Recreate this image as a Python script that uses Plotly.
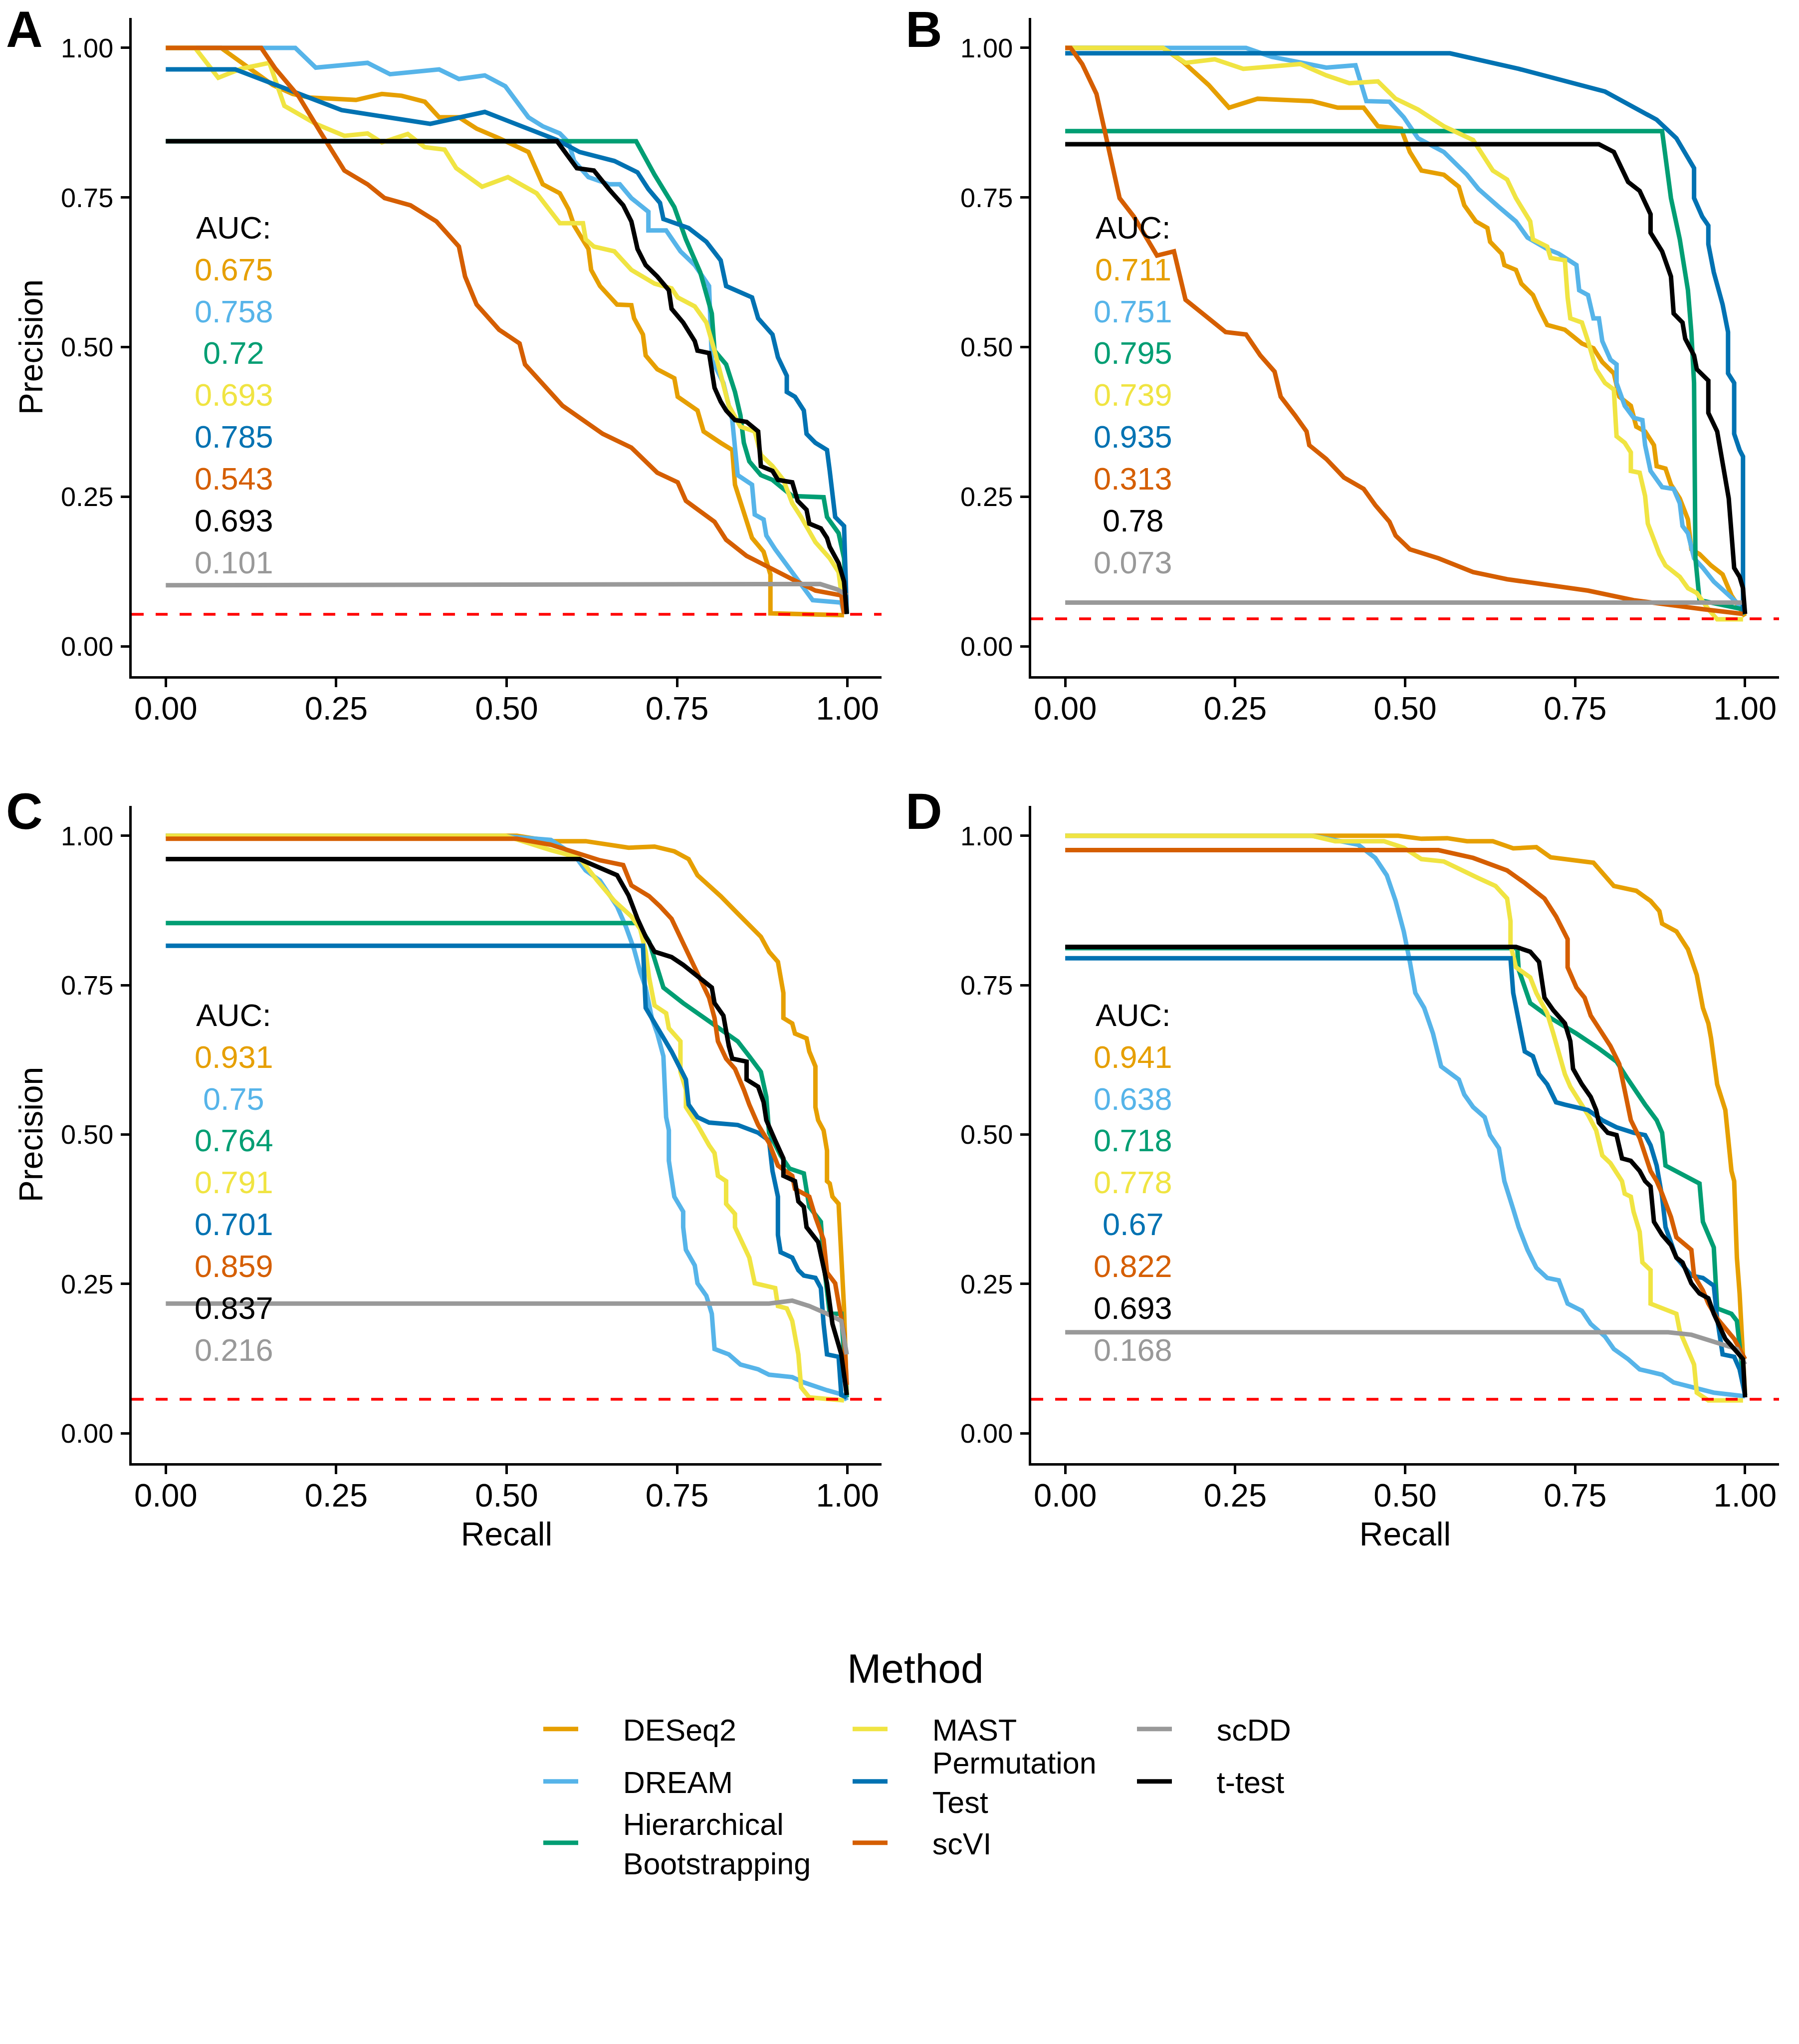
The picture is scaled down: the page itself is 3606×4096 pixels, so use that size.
import plotly.graph_objects as go

# ---------------- data ----------------
methods = ["DESeq2", "DREAM", "Hierarchical Bootstrapping", "MAST",
           "Permutation Test", "scVI", "scDD", "t-test"]
legend_lines = [["DESeq2"], ["DREAM"], ["Hierarchical", "Bootstrapping"], ["MAST"],
                ["Permutation", "Test"], ["scVI"], ["scDD"], ["t-test"]]
colors = ["#E69F00", "#56B4E9", "#009E73", "#F0E442",
          "#0072B2", "#D55E00", "#999999", "#000000"]

tick_vals = [0, 0.25, 0.5, 0.75, 1.0]
tick_text = ["0.00", "0.25", "0.50", "0.75", "1.00"]

# (recall, precision) pairs
A_DESeq2 = [(0,1.0),(0.081,1.0),(0.119,0.969),(0.157,0.938),(0.186,0.923),(0.211,0.917),(0.279,0.913),(0.317,0.923),(0.346,0.920),(0.380,0.910),(0.401,0.884),(0.430,0.884),(0.456,0.865),(0.489,0.849),(0.532,0.826),(0.553,0.772),(0.578,0.757),(0.591,0.730),(0.599,0.703),(0.620,0.664),(0.624,0.629),(0.637,0.602),(0.662,0.571),(0.683,0.570),(0.687,0.548),(0.700,0.521),(0.704,0.486),(0.721,0.463),(0.746,0.448),(0.751,0.417),(0.780,0.394),(0.789,0.359),(0.814,0.340),(0.831,0.328),(0.835,0.270),(0.852,0.208),(0.860,0.181),(0.877,0.158),(0.887,0.120),(0.887,0.055),(0.995,0.052)]
A_DREAM = [(0,1.0),(0.190,1.0),(0.220,0.967),(0.296,0.975),(0.329,0.956),(0.401,0.964),(0.430,0.948),(0.468,0.954),(0.498,0.936),(0.532,0.884),(0.553,0.869),(0.578,0.857),(0.591,0.842),(0.599,0.811),(0.620,0.784),(0.650,0.772),(0.666,0.772),(0.683,0.749),(0.708,0.726),(0.708,0.695),(0.734,0.695),(0.755,0.660),(0.776,0.637),(0.797,0.602),(0.801,0.479),(0.818,0.440),(0.831,0.378),(0.839,0.286),(0.860,0.270),(0.864,0.220),(0.877,0.212),(0.881,0.185),(0.894,0.162),(0.919,0.124),(0.949,0.077),(0.991,0.073),(0.995,0.054)]
A_HB = [(0,0.844),(0.690,0.844),(0.717,0.788),(0.746,0.734),(0.763,0.680),(0.784,0.625),(0.801,0.556),(0.805,0.494),(0.822,0.471),(0.835,0.425),(0.843,0.386),(0.848,0.340),(0.856,0.309),(0.873,0.286),(0.890,0.278),(0.919,0.251),(0.965,0.249),(0.970,0.216),(0.987,0.189),(0.995,0.147),(0.999,0.054)]
A_MAST = [(0,1.0),(0.043,1.0),(0.077,0.950),(0.110,0.965),(0.152,0.975),(0.174,0.903),(0.220,0.873),(0.262,0.853),(0.296,0.857),(0.317,0.842),(0.355,0.856),(0.380,0.834),(0.409,0.830),(0.426,0.799),(0.464,0.768),(0.502,0.784),(0.544,0.757),(0.578,0.707),(0.612,0.707),(0.616,0.680),(0.628,0.668),(0.658,0.660),(0.683,0.629),(0.717,0.606),(0.742,0.598),(0.751,0.583),(0.776,0.568),(0.793,0.541),(0.805,0.494),(0.818,0.440),(0.826,0.402),(0.843,0.367),(0.864,0.359),(0.873,0.320),(0.890,0.301),(0.906,0.278),(0.919,0.239),(0.932,0.216),(0.953,0.174),(0.974,0.147),(0.987,0.124),(0.995,0.054)]
A_PT = [(0,0.964),(0.102,0.964),(0.178,0.931),(0.258,0.896),(0.388,0.873),(0.468,0.893),(0.574,0.846),(0.607,0.826),(0.658,0.811),(0.692,0.792),(0.708,0.764),(0.725,0.741),(0.730,0.714),(0.767,0.699),(0.793,0.676),(0.814,0.645),(0.822,0.602),(0.860,0.583),(0.869,0.548),(0.890,0.521),(0.898,0.483),(0.911,0.452),(0.911,0.425),(0.923,0.417),(0.936,0.394),(0.940,0.355),(0.953,0.340),(0.970,0.328),(0.974,0.293),(0.982,0.216),(0.995,0.201),(0.999,0.054)]
A_scVI = [(0,1.0),(0.140,1.0),(0.161,0.965),(0.195,0.919),(0.228,0.857),(0.262,0.795),(0.296,0.772),(0.321,0.749),(0.359,0.737),(0.397,0.710),(0.430,0.668),(0.439,0.618),(0.456,0.571),(0.489,0.529),(0.519,0.506),(0.527,0.471),(0.582,0.402),(0.641,0.355),(0.683,0.332),(0.721,0.290),(0.751,0.274),(0.763,0.243),(0.805,0.208),(0.822,0.178),(0.852,0.151),(0.885,0.131),(0.919,0.112),(0.953,0.093),(0.991,0.085),(0.995,0.054)]
A_scDD = [(0,0.102),(0.93,0.103),(0.96,0.104),(0.985,0.095),(1.0,0.085)]
A_ttest = [(0,0.844),(0.574,0.844),(0.603,0.799),(0.628,0.795),(0.650,0.764),(0.671,0.737),(0.683,0.710),(0.692,0.664),(0.704,0.637),(0.721,0.618),(0.738,0.595),(0.742,0.564),(0.759,0.541),(0.776,0.510),(0.780,0.494),(0.797,0.490),(0.805,0.432),(0.814,0.409),(0.822,0.394),(0.835,0.378),(0.852,0.375),(0.869,0.359),(0.873,0.301),(0.890,0.293),(0.898,0.278),(0.919,0.274),(0.927,0.243),(0.940,0.228),(0.944,0.205),(0.961,0.197),(0.970,0.181),(0.974,0.166),(0.987,0.139),(0.995,0.108),(0.999,0.054)]

B_DESeq2 = [(0,1.0),(0.144,1.0),(0.173,0.977),(0.211,0.938),(0.241,0.900),(0.283,0.915),(0.363,0.911),(0.401,0.900),(0.439,0.900),(0.460,0.869),(0.494,0.865),(0.507,0.826),(0.524,0.795),(0.557,0.788),(0.579,0.768),(0.587,0.737),(0.604,0.710),(0.621,0.699),(0.625,0.676),(0.642,0.656),(0.646,0.637),(0.663,0.629),(0.671,0.606),(0.688,0.587),(0.697,0.564),(0.709,0.537),(0.735,0.529),(0.760,0.506),(0.777,0.498),(0.790,0.475),(0.807,0.456),(0.815,0.417),(0.832,0.402),(0.840,0.367),(0.853,0.359),(0.866,0.336),(0.870,0.301),(0.883,0.297),(0.891,0.270),(0.904,0.247),(0.916,0.212),(0.921,0.162),(0.933,0.154),(0.950,0.135),(0.967,0.120),(0.980,0.085),(1.0,0.050)]
B_DREAM = [(0,1.0),(0.266,1.0),(0.304,0.985),(0.384,0.967),(0.427,0.971),(0.443,0.911),(0.477,0.910),(0.498,0.884),(0.519,0.849),(0.557,0.826),(0.591,0.788),(0.608,0.764),(0.638,0.734),(0.663,0.710),(0.680,0.683),(0.709,0.664),(0.726,0.656),(0.752,0.637),(0.756,0.595),(0.769,0.587),(0.777,0.548),(0.785,0.548),(0.790,0.510),(0.802,0.479),(0.811,0.471),(0.811,0.440),(0.823,0.402),(0.836,0.382),(0.849,0.378),(0.853,0.336),(0.861,0.293),(0.878,0.266),(0.895,0.263),(0.904,0.239),(0.908,0.201),(0.916,0.189),(0.925,0.147),(0.938,0.131),(0.954,0.108),(0.988,0.073),(1.0,0.054)]
B_HB = [(0,0.861),(0.878,0.861),(0.891,0.749),(0.904,0.680),(0.916,0.595),(0.921,0.525),(0.925,0.440),(0.927,0.147),(0.933,0.077),(0.996,0.062),(1.0,0.054)]
B_MAST = [(0,1.0),(0.144,1.0),(0.177,0.975),(0.220,0.981),(0.262,0.965),(0.346,0.973),(0.384,0.954),(0.418,0.941),(0.460,0.944),(0.486,0.915),(0.519,0.897),(0.557,0.869),(0.600,0.846),(0.629,0.795),(0.650,0.780),(0.663,0.749),(0.684,0.710),(0.688,0.680),(0.709,0.668),(0.714,0.649),(0.735,0.645),(0.739,0.583),(0.743,0.548),(0.760,0.541),(0.769,0.510),(0.781,0.463),(0.794,0.440),(0.807,0.429),(0.811,0.351),(0.823,0.340),(0.832,0.324),(0.832,0.293),(0.845,0.290),(0.853,0.251),(0.857,0.205),(0.866,0.178),(0.874,0.154),(0.883,0.135),(0.904,0.116),(0.916,0.097),(0.929,0.089),(0.946,0.062),(0.959,0.045),(0.997,0.045)]
B_PT = [(0,0.991),(0.566,0.991),(0.667,0.965),(0.794,0.927),(0.870,0.880),(0.899,0.849),(0.925,0.799),(0.925,0.749),(0.937,0.718),(0.946,0.703),(0.946,0.672),(0.954,0.625),(0.967,0.571),(0.971,0.548),(0.975,0.525),(0.975,0.456),(0.984,0.440),(0.984,0.355),(0.992,0.328),(0.997,0.317),(0.997,0.054)]
B_scVI = [(0,1.0),(0.008,1.0),(0.025,0.973),(0.046,0.923),(0.059,0.857),(0.072,0.788),(0.080,0.749),(0.101,0.718),(0.135,0.653),(0.160,0.660),(0.177,0.579),(0.211,0.548),(0.236,0.525),(0.266,0.521),(0.287,0.486),(0.308,0.459),(0.317,0.417),(0.338,0.386),(0.355,0.359),(0.359,0.336),(0.384,0.313),(0.410,0.282),(0.439,0.263),(0.456,0.236),(0.477,0.208),(0.486,0.185),(0.507,0.162),(0.549,0.147),(0.600,0.124),(0.650,0.112),(0.701,0.104),(0.769,0.093),(0.836,0.077),(0.887,0.069),(0.938,0.062),(0.997,0.054)]
B_scDD = [(0,0.073),(1.0,0.073)]
B_ttest = [(0,0.839),(0.785,0.839),(0.807,0.826),(0.828,0.776),(0.845,0.761),(0.861,0.722),(0.861,0.691),(0.878,0.660),(0.891,0.618),(0.895,0.556),(0.908,0.541),(0.912,0.514),(0.925,0.486),(0.929,0.463),(0.946,0.444),(0.946,0.390),(0.959,0.359),(0.967,0.305),(0.976,0.247),(0.980,0.189),(0.984,0.131),(0.992,0.116),(0.997,0.097),(1.0,0.054)]

C_DESeq2 = [(0,1.0),(0.515,1.0),(0.565,0.991),(0.616,0.991),(0.679,0.980),(0.717,0.982),(0.746,0.974),(0.767,0.961),(0.780,0.934),(0.814,0.899),(0.839,0.870),(0.873,0.831),(0.885,0.806),(0.898,0.789),(0.906,0.737),(0.906,0.695),(0.919,0.686),(0.923,0.669),(0.940,0.661),(0.944,0.639),(0.953,0.614),(0.953,0.546),(0.957,0.524),(0.965,0.507),(0.970,0.473),(0.970,0.422),(0.974,0.418),(0.978,0.396),(0.987,0.384),(0.991,0.286),(0.995,0.209),(0.999,0.064)]
C_DREAM = [(0,1.0),(0.489,1.0),(0.565,0.993),(0.599,0.968),(0.616,0.942),(0.637,0.925),(0.662,0.882),(0.675,0.848),(0.687,0.810),(0.696,0.772),(0.704,0.746),(0.713,0.695),(0.721,0.669),(0.730,0.631),(0.734,0.529),(0.738,0.507),(0.738,0.456),(0.746,0.396),(0.759,0.371),(0.759,0.345),(0.763,0.307),(0.776,0.281),(0.780,0.251),(0.793,0.230),(0.801,0.200),(0.805,0.141),(0.826,0.132),(0.843,0.115),(0.869,0.107),(0.885,0.098),(0.919,0.094),(0.936,0.085),(0.970,0.072),(0.995,0.064),(0.999,0.055)]
C_HB = [(0,0.854),(0.692,0.854),(0.709,0.823),(0.730,0.746),(0.759,0.720),(0.801,0.686),(0.839,0.656),(0.856,0.631),(0.873,0.605),(0.881,0.563),(0.885,0.503),(0.902,0.465),(0.915,0.443),(0.936,0.435),(0.944,0.379),(0.961,0.354),(0.965,0.286),(0.974,0.200),(0.991,0.200),(0.999,0.060)]
C_MAST = [(0,1.0),(0.498,1.0),(0.565,0.976),(0.607,0.963),(0.633,0.925),(0.658,0.891),(0.683,0.865),(0.696,0.844),(0.704,0.806),(0.709,0.763),(0.717,0.716),(0.734,0.703),(0.738,0.678),(0.755,0.656),(0.755,0.605),(0.763,0.575),(0.763,0.546),(0.780,0.516),(0.797,0.482),(0.805,0.469),(0.810,0.431),(0.822,0.422),(0.822,0.384),(0.835,0.367),(0.835,0.345),(0.848,0.311),(0.856,0.294),(0.864,0.251),(0.877,0.247),(0.894,0.243),(0.898,0.213),(0.911,0.209),(0.919,0.188),(0.923,0.162),(0.928,0.132),(0.932,0.077),(0.944,0.060),(0.995,0.055)]
C_PT = [(0,0.816),(0.700,0.816),(0.704,0.712),(0.721,0.678),(0.742,0.639),(0.763,0.592),(0.767,0.550),(0.780,0.529),(0.797,0.520),(0.839,0.516),(0.869,0.503),(0.885,0.490),(0.890,0.439),(0.898,0.396),(0.898,0.332),(0.902,0.303),(0.919,0.294),(0.928,0.273),(0.936,0.264),(0.953,0.260),(0.961,0.243),(0.965,0.183),(0.970,0.132),(0.987,0.128),(0.991,0.064),(0.999,0.060)]
C_scVI = [(0,0.995),(0.515,0.995),(0.565,0.985),(0.607,0.969),(0.637,0.959),(0.671,0.951),(0.683,0.917),(0.709,0.899),(0.725,0.882),(0.742,0.861),(0.763,0.810),(0.780,0.767),(0.797,0.729),(0.805,0.695),(0.810,0.656),(0.822,0.627),(0.835,0.610),(0.848,0.575),(0.856,0.550),(0.869,0.516),(0.885,0.486),(0.898,0.448),(0.919,0.431),(0.923,0.409),(0.944,0.396),(0.953,0.362),(0.965,0.324),(0.970,0.269),(0.982,0.251),(0.995,0.166),(0.999,0.081)]
C_scDD = [(0,0.217),(0.885,0.217),(0.919,0.222),(0.944,0.213),(0.970,0.200),(0.991,0.188),(0.999,0.132)]
C_ttest = [(0,0.961),(0.607,0.961),(0.662,0.934),(0.679,0.900),(0.692,0.861),(0.704,0.831),(0.717,0.806),(0.742,0.797),(0.759,0.784),(0.801,0.746),(0.805,0.720),(0.818,0.699),(0.826,0.648),(0.831,0.627),(0.852,0.622),(0.852,0.592),(0.869,0.580),(0.877,0.554),(0.881,0.524),(0.890,0.503),(0.894,0.490),(0.906,0.460),(0.906,0.431),(0.923,0.422),(0.928,0.388),(0.936,0.379),(0.940,0.345),(0.957,0.320),(0.970,0.251),(0.974,0.217),(0.978,0.183),(0.991,0.132),(0.999,0.064)]

D_DESeq2 = [(0,1.0),(0.490,1.0),(0.524,0.995),(0.562,0.996),(0.591,0.991),(0.629,0.991),(0.659,0.979),(0.693,0.981),(0.714,0.964),(0.777,0.955),(0.807,0.916),(0.840,0.908),(0.861,0.891),(0.874,0.874),(0.878,0.853),(0.899,0.840),(0.916,0.810),(0.929,0.767),(0.938,0.712),(0.946,0.686),(0.950,0.661),(0.959,0.584),(0.971,0.541),(0.975,0.494),(0.980,0.439),(0.984,0.422),(0.988,0.294),(0.992,0.234),(0.997,0.124),(1.0,0.064)]
D_DREAM = [(0,1.0),(0.363,1.0),(0.405,0.991),(0.431,0.985),(0.456,0.963),(0.473,0.934),(0.486,0.891),(0.498,0.840),(0.507,0.789),(0.515,0.737),(0.528,0.712),(0.541,0.669),(0.553,0.614),(0.579,0.592),(0.587,0.567),(0.600,0.546),(0.617,0.529),(0.625,0.499),(0.638,0.477),(0.646,0.422),(0.659,0.375),(0.667,0.345),(0.680,0.307),(0.693,0.277),(0.709,0.260),(0.726,0.256),(0.739,0.217),(0.760,0.205),(0.773,0.183),(0.794,0.162),(0.807,0.141),(0.828,0.124),(0.845,0.107),(0.878,0.098),(0.895,0.085),(0.921,0.077),(0.954,0.068),(1.0,0.062)]
D_HB = [(0,0.812),(0.665,0.812),(0.667,0.776),(0.684,0.720),(0.714,0.695),(0.752,0.669),(0.785,0.644),(0.811,0.622),(0.828,0.592),(0.840,0.571),(0.853,0.550),(0.870,0.524),(0.878,0.503),(0.883,0.448),(0.904,0.435),(0.933,0.418),(0.938,0.354),(0.946,0.332),(0.954,0.311),(0.959,0.209),(0.980,0.200),(0.988,0.188),(0.992,0.141),(1.0,0.064)]
D_MAST = [(0,1.0),(0.363,1.0),(0.397,0.991),(0.469,0.991),(0.498,0.980),(0.524,0.961),(0.557,0.957),(0.583,0.942),(0.608,0.929),(0.633,0.916),(0.650,0.895),(0.655,0.857),(0.655,0.818),(0.663,0.780),(0.684,0.763),(0.693,0.737),(0.709,0.703),(0.718,0.669),(0.726,0.639),(0.735,0.601),(0.743,0.580),(0.756,0.558),(0.769,0.533),(0.781,0.507),(0.790,0.465),(0.802,0.452),(0.819,0.422),(0.823,0.401),(0.832,0.396),(0.836,0.371),(0.845,0.337),(0.849,0.286),(0.861,0.273),(0.861,0.217),(0.878,0.209),(0.899,0.200),(0.904,0.171),(0.925,0.115),(0.929,0.068),(0.946,0.055),(0.997,0.055)]
D_PT = [(0,0.795),(0.655,0.795),(0.659,0.737),(0.667,0.686),(0.676,0.639),(0.688,0.631),(0.697,0.601),(0.709,0.584),(0.722,0.554),(0.735,0.550),(0.769,0.541),(0.790,0.524),(0.811,0.512),(0.836,0.503),(0.853,0.499),(0.861,0.482),(0.870,0.448),(0.878,0.396),(0.883,0.345),(0.899,0.294),(0.921,0.264),(0.938,0.260),(0.954,0.247),(0.959,0.192),(0.967,0.132),(0.984,0.128),(0.992,0.107),(1.0,0.064)]
D_scVI = [(0,0.976),(0.549,0.976),(0.600,0.963),(0.650,0.942),(0.676,0.921),(0.705,0.895),(0.722,0.865),(0.739,0.827),(0.739,0.780),(0.752,0.746),(0.764,0.729),(0.773,0.699),(0.785,0.678),(0.802,0.648),(0.815,0.618),(0.823,0.575),(0.832,0.524),(0.845,0.494),(0.853,0.469),(0.861,0.439),(0.870,0.422),(0.878,0.401),(0.891,0.362),(0.899,0.328),(0.921,0.307),(0.925,0.264),(0.938,0.239),(0.946,0.217),(0.959,0.192),(0.971,0.175),(0.984,0.158),(1.0,0.124)]
D_scDD = [(0,0.169),(0.887,0.169),(0.921,0.165),(0.954,0.153),(0.988,0.141),(1.0,0.115)]
D_ttest = [(0,0.814),(0.663,0.814),(0.684,0.806),(0.697,0.789),(0.705,0.729),(0.718,0.708),(0.735,0.686),(0.743,0.656),(0.747,0.610),(0.760,0.584),(0.773,0.563),(0.781,0.541),(0.785,0.520),(0.798,0.503),(0.811,0.499),(0.819,0.460),(0.832,0.456),(0.845,0.439),(0.853,0.422),(0.861,0.413),(0.866,0.354),(0.878,0.332),(0.891,0.315),(0.899,0.294),(0.908,0.286),(0.916,0.264),(0.921,0.251),(0.933,0.234),(0.946,0.226),(0.954,0.200),(0.971,0.158),(0.988,0.136),(0.997,0.124),(1.0,0.060)]

# AUC values, listed in order DESeq2, DREAM, HB, MAST, PT, scVI, t-test, scDD
auc_method_order = [0, 1, 2, 3, 4, 5, 7, 6]
A_auc = ["0.675", "0.758", "0.72", "0.693", "0.785", "0.543", "0.693", "0.101"]
B_auc = ["0.711", "0.751", "0.795", "0.739", "0.935", "0.313", "0.78", "0.073"]
C_auc = ["0.931", "0.75", "0.764", "0.791", "0.701", "0.859", "0.837", "0.216"]
D_auc = ["0.941", "0.638", "0.718", "0.778", "0.67", "0.822", "0.693", "0.168"]

# red dashed reference line (baseline precision)
baselines = [0.0535, 0.046, 0.057, 0.057]

panel_letters = ["A", "B", "C", "D"]
panel_curves = [
    [A_DESeq2, A_DREAM, A_HB, A_MAST, A_PT, A_scVI, A_scDD, A_ttest],
    [B_DESeq2, B_DREAM, B_HB, B_MAST, B_PT, B_scVI, B_scDD, B_ttest],
    [C_DESeq2, C_DREAM, C_HB, C_MAST, C_PT, C_scVI, C_scDD, C_ttest],
    [D_DESeq2, D_DREAM, D_HB, D_MAST, D_PT, D_scVI, D_scDD, D_ttest],
]
panel_aucs = [A_auc, B_auc, C_auc, D_auc]

# ---------------- layout constants ----------------
W, H = 3606, 4096
FONT = "Liberation Sans"
x_domains = [[264 / W, 1767 / W], [2067 / W, 3566 / W]]
y_domains = [[1 - 1355 / H, 1 - 36 / H], [1 - 2932 / H, 1 - 1615 / H]]
PAD = "\u00a0" * 5   # gap between legend key and label, as in the reference

def legend_name(lines):
    return "<br>".join(PAD + s for s in lines)

fig = go.Figure()

for p in range(4):
    sfx = "" if p == 0 else str(p + 1)
    xa, ya = "x" + sfx, "y" + sfx
    for m, pts in enumerate(panel_curves[p]):
        fig.add_trace(go.Scatter(
            x=[q[0] for q in pts], y=[q[1] for q in pts],
            mode="lines", name=legend_name(legend_lines[m]),
            line=dict(color=colors[m], width=9),
            xaxis=xa, yaxis=ya,
            showlegend=(p == 0),
            legend="legend" if m == 0 else "legend" + str(m + 1),
            hoverinfo="skip",
        ))
    # red dashed baseline
    fig.add_shape(type="line", xref=xa + " domain", yref=ya,
                  x0=0, x1=1, y0=baselines[p], y1=baselines[p],
                  line=dict(color="#FF0000", width=5.5, dash="24px,24px"),
                  layer="above")
    # AUC annotations
    fig.add_annotation(x=0.1, y=0.70, xref=xa, yref=ya, text="AUC:",
                       showarrow=False, font=dict(family=FONT, size=63, color="black"),
                       xanchor="center", yanchor="middle")
    for k, mi in enumerate(auc_method_order):
        fig.add_annotation(x=0.1, y=0.63 - 0.07 * k, xref=xa, yref=ya,
                           text=panel_aucs[p][k], showarrow=False,
                           font=dict(family=FONT, size=63, color=colors[mi]),
                           xanchor="center", yanchor="middle")

axis_common = dict(
    range=[-0.05, 1.05], tickvals=tick_vals, ticktext=tick_text,
    showline=True, linecolor="black", linewidth=5, mirror=False,
    ticks="outside", ticklen=17, tickwidth=5, tickcolor="black",
    showgrid=False, zeroline=False, fixedrange=True,
)

layout = dict(
    width=W, height=H, margin=dict(l=0, r=0, t=0, b=0),
    paper_bgcolor="white", plot_bgcolor="white",
    font=dict(family=FONT, color="black"),
)
for p in range(4):
    sfx = "" if p == 0 else str(p + 1)
    col, row = p % 2, p // 2
    xa = dict(axis_common, domain=x_domains[col], anchor="y" + sfx,
              tickfont=dict(family=FONT, size=65, color="black"),
              ticklabelstandoff=-13)
    ya = dict(axis_common, domain=y_domains[row], anchor="x" + sfx,
              tickfont=dict(family=FONT, size=54, color="black"),
              ticklabelstandoff=4)
    if row == 1:
        xa["title"] = dict(text="Recall", font=dict(family=FONT, size=66, color="black"), standoff=20)
    if col == 0:
        ya["title"] = dict(text="Precision", font=dict(family=FONT, size=66, color="black"), standoff=16)
    layout["xaxis" + sfx] = xa
    layout["yaxis" + sfx] = ya

# legends: one per entry, arranged in the 3-column grid of the reference
legend_col_x = [1084, 1704, 2274]
legend_row_y = [3465, 3570, 3693]
legend_cells = [(0, 0), (0, 1), (0, 2), (1, 0), (1, 1), (1, 2), (2, 0), (2, 1)]
for m in range(len(methods)):
    c, r = legend_cells[m]
    key = "legend" if m == 0 else "legend" + str(m + 1)
    layout[key] = dict(
        x=legend_col_x[c] / W, y=1 - legend_row_y[r] / H,
        xanchor="left", yanchor="middle", orientation="v",
        font=dict(family=FONT, size=61, color="black"),
        bgcolor="rgba(0,0,0,0)", borderwidth=0, itemwidth=70,
        tracegroupgap=0,
    )

fig.update_layout(**layout)

# legend title
fig.add_annotation(x=1835 / W, y=1 - 3343 / H, xref="paper", yref="paper",
                   text="Method", showarrow=False,
                   font=dict(family=FONT, size=82, color="black"),
                   xanchor="center", yanchor="middle")

# panel letters (top row anchored to the page top so the text box stays inside)
letter_x = [49, 1852, 49, 1852]
for p in range(4):
    if p < 2:
        pos = dict(y=1.0, yanchor="top")
    else:
        pos = dict(y=1 - 1626 / H, yanchor="middle")
    fig.add_annotation(x=letter_x[p] / W, xref="paper", yref="paper",
                       text="<b>" + panel_letters[p] + "</b>",
                       showarrow=False, font=dict(family=FONT, size=102, color="black"),
                       xanchor="center", **pos)

fig.write_html("out.html", config={"displayModeBar": False},
               post_script="document.body.style.margin='0';")
